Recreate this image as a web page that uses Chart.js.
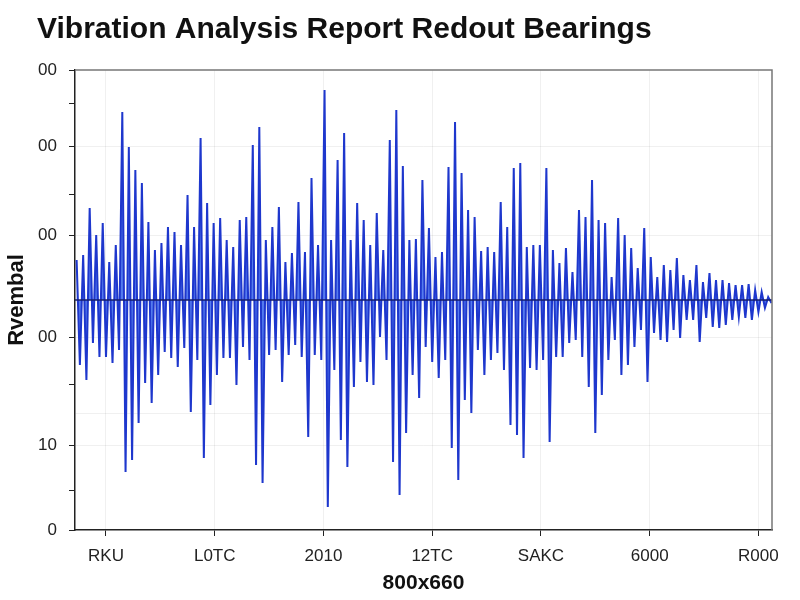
<!DOCTYPE html>
<html>
<head>
<meta charset="utf-8">
<script src="https://cdn.jsdelivr.net/npm/chart.js@4/dist/chart.umd.min.js"></script>
<style>
  html, body { margin: 0; padding: 0; background: #fff; }
  #wrap { width: 800px; height: 600px; }
</style>
</head>
<body>
<div id="wrap"><canvas id="chart" width="800" height="600"></canvas></div>
<script>
// Schwingungsverlauf, Werte (Paare: Spitze oben, Spitze unten)
const sampleStart = -27;
const sampleStep = 3;
const amplitude = [
  40, -65, 45, -80, 92, -43, 65, -57, 77, -57, 38, -63, 55, -50, 188, -172,
  153, -160, 130, -123, 117, -83, 78, -103, 50, -75, 57, -52, 73, -58, 68, -67,
  55, -48, 105, -112, 73, -60, 162, -158, 97, -105, 77, -75, 82, -58, 60, -58,
  53, -85, 80, -47, 83, -60, 155, -165, 173, -183, 60, -55, 73, -50, 93, -82,
  38, -55, 47, -45, 98, -57, 48, -137, 122, -55, 55, -60, 210, -207, 60, -70,
  140, -140, 167, -167, 60, -87, 97, -62, 80, -82, 55, -85, 87, -37, 50, -60,
  160, -162, 190, -195, 134, -133, 60, -75, 61, -98, 120, -47, 72, -62, 43, -78,
  48, -60, 133, -148, 178, -180, 127, -100, 90, -113, 83, -50, 49, -75, 53, -60,
  48, -53, 98, -70, 73, -125, 132, -135, 137, -158, 53, -68, 55, -70, 55, -60,
  132, -142, 50, -57, 37, -57, 52, -43, 28, -40, 90, -57, 83, -87, 120, -133,
  80, -95, 77, -60, 23, -40, 82, -75, 65, -65, 52, -47, 32, -30, 72, -82,
  43, -33, 23, -40, 35, -42, 30, -30, 42, -38, 25, -20, 20, -20, 35, -42,
  18, -18, 27, -27, 20, -28, 20, -25, 17, -20, 15, -17, 15, -18, 16, -20,
  10, -12, 8, -8, 3, -3
];

const xTickValues = [0, 100, 200, 300, 400, 500, 600];
const xTickLabels = ['RKU', 'L0TC', '2010', '12TC', 'SAKC', '6000', 'R000'];

const yMajorValues = [230, 154, 65, -37, -145, -230];
const yMajorLabels = ['00', '00', '00', '00', '10', '0'];
const yMinorValues = [197, 106, -85, -190];
const yGridOnly = [-113];

const points = amplitude.map((v, i) => ({ x: sampleStart + i * sampleStep, y: v }));

const rahmen = {
    id: 'rahmen',
    afterDatasetsDraw(chart) {
        const ctx = chart.ctx;
        const a = chart.chartArea;
        const y0 = chart.scales.y.getPixelForValue(0);
        ctx.save();
        // Nulllinie
        ctx.strokeStyle = 'rgb(22,30,110)';
        ctx.lineWidth = 1.5;
        ctx.beginPath();
        ctx.moveTo(a.left, y0);
        ctx.lineTo(a.right, y0);
        ctx.stroke();
        // Rahmen oben und rechts
        ctx.strokeStyle = '#777';
        ctx.lineWidth = 1.5;
        ctx.beginPath();
        ctx.moveTo(a.left, a.top);
        ctx.lineTo(a.right, a.top);
        ctx.lineTo(a.right, a.bottom);
        ctx.stroke();
        ctx.restore();
    },
    afterDraw(chart) {
        const ctx = chart.ctx;
        ctx.save();
        ctx.fillStyle = '#111';
        ctx.font = 'bold 30px "Liberation Sans", Arial, sans-serif';
        ctx.textBaseline = 'alphabetic';
        ctx.fillText('Vibration Analysis Report Redout Bearings', 37, 38);
        ctx.restore();
    }
};

new Chart(document.getElementById('chart'), {
    type: 'line',
    data: {
        datasets: [{
            label: 'Vibration',
            data: points,
            borderColor: 'rgb(30,55,205)',
            backgroundColor: 'rgba(55,100,235,0.85)',
            borderWidth: 2,
            pointRadius: 0,
            tension: 0,
            fill: 'origin'
        }]
    },
    options: {
        responsive: false,
        animation: false,
        layout: { padding: { top: 70, left: 0, right: 28, bottom: 0 } },
        plugins: {
            legend: { display: false },
            tooltip: { enabled: false }
        },
        scales: {
            x: {
                type: 'linear',
                min: -28.5,
                max: 612.5,
                afterBuildTicks: function (scale) {
                    scale.ticks = xTickValues.map(v => ({ value: v }));
                },
                afterFit: function (scale) { scale.height = 70; },
                ticks: {
                    autoSkip: false,
                    maxRotation: 0,
                    padding: 10,
                    color: '#222',
                    font: { family: '"Liberation Sans", Arial, sans-serif', size: 17 },
                    callback: function (value) {
                        return xTickLabels[xTickValues.indexOf(value)];
                    }
                },
                grid: { color: 'rgba(0,0,0,0.06)', tickColor: '#222', tickLength: 6 },
                border: { color: '#222', width: 1.5 },
                title: {
                    display: true,
                    text: '800x660',
                    color: '#111',
                    font: { family: '"Liberation Sans", Arial, sans-serif', size: 21, weight: 'bold' }
                }
            },
            y: {
                min: -230,
                max: 230,
                afterBuildTicks: function (scale) {
                    scale.ticks = yMajorValues.concat(yMinorValues, yGridOnly)
                        .sort((a, b) => b - a)
                        .map(v => ({ value: v }));
                },
                afterFit: function (scale) { scale.width = 75; },
                ticks: {
                    autoSkip: false,
                    padding: 12,
                    color: '#222',
                    font: { family: '"Liberation Sans", Arial, sans-serif', size: 17 },
                    callback: function (value) {
                        const i = yMajorValues.indexOf(value);
                        return i >= 0 ? yMajorLabels[i] : '';
                    }
                },
                grid: {
                    color: function (c) {
                        const v = c.tick ? c.tick.value : null;
                        if (yMinorValues.includes(v) || v === 230 || v === -230) return 'rgba(0,0,0,0)';
                        return 'rgba(0,0,0,0.06)';
                    },
                    tickColor: function (c) {
                        const v = c.tick ? c.tick.value : null;
                        return yGridOnly.includes(v) ? 'rgba(0,0,0,0)' : '#222';
                    },
                    tickLength: 6
                },
                border: { color: '#222', width: 1.5 },
                title: {
                    display: true,
                    text: 'Rvembal',
                    color: '#111',
                    font: { family: '"Liberation Sans", Arial, sans-serif', size: 22, weight: 'bold' }
                }
            }
        }
    },
    plugins: [rahmen]
});
</script>
</body>
</html>
